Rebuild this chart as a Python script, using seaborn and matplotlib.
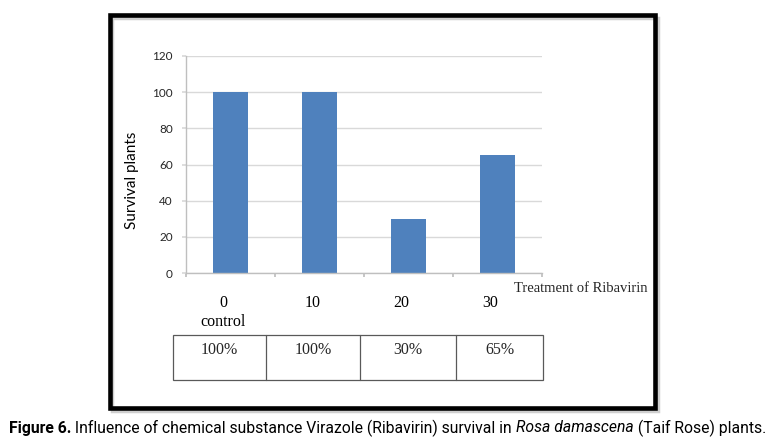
import matplotlib
matplotlib.use("Agg")
import matplotlib.pyplot as plt
import matplotlib.transforms as mtrans
import seaborn as sns
import pandas as pd
from matplotlib.lines import Line2D
from matplotlib.patches import Rectangle

# data
doses = ["0", "10", "20", "30"]
sub_labels = ["control", "", "", ""]
survival = [100, 100, 30, 65]
pct_labels = ["100%", "100%", "30%", "65%"]

df = pd.DataFrame({"dose": doses, "survival": survival})

W, H = 777, 445
sns.set_theme(style="white")
fig = plt.figure(figsize=(W / 100, H / 100), dpi=100)
fig.patch.set_facecolor("white")

def fx(px):
    return px / W

def fy(py):
    return 1 - py / H

# outer black frame with a soft shadow
fig.add_artist(Rectangle((fx(111.5), fy(410.5)), fx(658) - fx(111.5), fy(17.5) - fy(410.5),
                         fill=False, edgecolor="#CFCFCF", linewidth=2.5,
                         transform=fig.transFigure))
fig.add_artist(Rectangle((fx(109.5), fy(408)), fx(655) - fx(109.5), fy(15) - fy(408),
                         fill=False, edgecolor="black", linewidth=3.3,
                         transform=fig.transFigure))

# axes box: x 186..542, y 56..273 (pixels from top)
ax = fig.add_axes([fx(186), fy(273), fx(542) - fx(186), fy(56) - fy(273)])
sns.barplot(data=df, x="dose", y="survival", color="#4F81BD", width=0.39,
            saturation=1, ax=ax, edgecolor="none")

ax.set_ylim(0, 120)
ax.set_xlim(-0.5, 3.5)
ax.set_yticks(range(0, 121, 20))
ax.yaxis.grid(True, color="#D9D9D9", linewidth=1)
ax.set_axisbelow(True)
for s in ["top", "right"]:
    ax.spines[s].set_visible(False)
for s in ["left", "bottom"]:
    ax.spines[s].set_color("#BFBFBF")
    ax.spines[s].set_linewidth(1)

ax.tick_params(axis="y", left=True, length=3, color="#D9D9D9", labelsize=8.5,
               pad=6.5, labelcolor="#262626")
for t in ax.get_yticklabels():
    t.set_family("Lato")

# ticks at category boundaries, labels under bars
ax.set_xticks([-0.5, 0.5, 1.5, 2.5, 3.5])
ax.set_xticklabels([])
ax.tick_params(axis="x", bottom=True, length=3, color="#BFBFBF", direction="out")
shift = mtrans.ScaledTranslation(-7 / 100, 0, fig.dpi_scale_trans)
lab_tr = mtrans.blended_transform_factory(ax.transData + shift, fig.transFigure)
for i, (lab, sub) in enumerate(zip(doses, sub_labels)):
    ax.text(i, fy(303), lab, ha="center", va="center", family="Liberation Serif",
            fontsize=11.5, color="black", transform=lab_tr)
    if sub:
        ax.text(i, fy(322), sub, ha="center", va="center", family="Liberation Serif",
                fontsize=11.5, color="black", transform=lab_tr)

ax.set_xlabel("")
ax.set_ylabel("")
fig.text(fx(132), fy(180), "Survival plants", rotation=90, ha="center", va="center",
         family="Lato", fontsize=11, color="black")

fig.text(fx(514), fy(289), "Treatment of Ribavirin", ha="left", va="center",
         family="Liberation Serif", fontsize=10.5)

# table of percentages under the chart
tab_x = [173, 266, 360, 456, 543]
tab_top, tab_bot = 335, 380
fig.add_artist(Rectangle((fx(tab_x[0]), fy(tab_bot)), fx(tab_x[-1]) - fx(tab_x[0]),
                         fy(tab_top) - fy(tab_bot), fill=False, edgecolor="#595959",
                         linewidth=0.9, transform=fig.transFigure))
for xx in tab_x[1:-1]:
    fig.add_artist(Line2D([fx(xx), fx(xx)], [fy(tab_top), fy(tab_bot)],
                          color="#595959", linewidth=0.9, transform=fig.transFigure))
for i, lab in enumerate(pct_labels):
    cx = (tab_x[i] + tab_x[i + 1]) / 2
    fig.text(fx(cx), fy(350), lab, ha="center", va="center",
             family="Liberation Serif", fontsize=11.5)

# caption, fitted to the width of the reference line
parts = [("Figure 6.", "bold", "normal"),
         (" Influence of chemical substance Virazole (Ribavirin) survival in ", "normal", "normal"),
         ("Rosa damascena", "normal", "italic"),
         (" (Taif Rose) plants.", "normal", "normal")]
renderer = fig.canvas.get_renderer()
cap_font = "Roboto"
size = 10.0
probe = [fig.text(0, 0, p, family=cap_font, fontsize=size, weight=w, style=s)
         for p, w, s in parts]
total = sum(t.get_window_extent(renderer).width for t in probe)
for t in probe:
    t.remove()
size = size * (765 - 9) / total
x0 = 9
for txt, wt, st in parts:
    t = fig.text(fx(x0), fy(428), txt, ha="left", va="center", family=cap_font,
                 fontsize=size, weight=wt, style=st, color="black")
    x0 += t.get_window_extent(renderer).width

fig.savefig("out.png", dpi=100, facecolor="white")
